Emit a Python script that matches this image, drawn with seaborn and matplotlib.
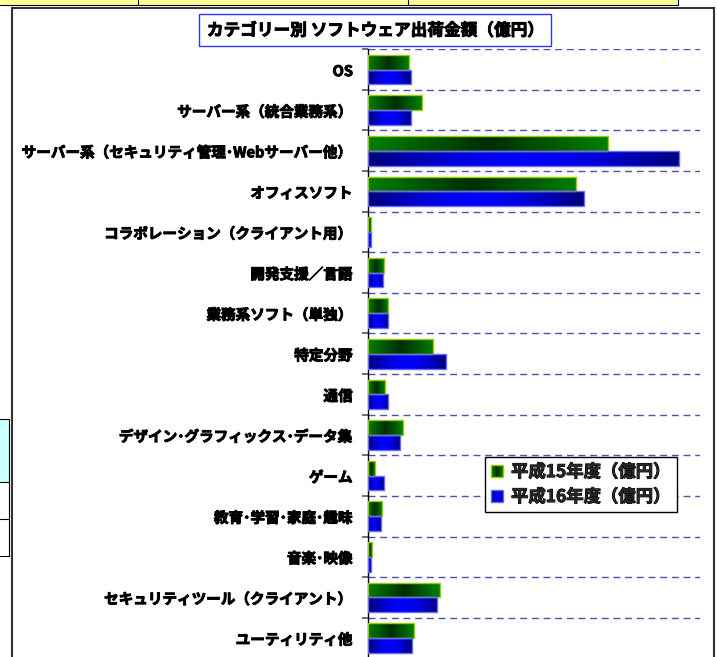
import numpy as np
import pandas as pd
import matplotlib
matplotlib.use("Agg")
import matplotlib.pyplot as plt
import matplotlib.patheffects as pe
import seaborn as sns
from matplotlib.patches import Rectangle, Patch
from matplotlib.legend_handler import HandlerBase
from matplotlib.ticker import FixedLocator

# ---------------- data ----------------
categories = [
    "OS",
    "サーバー系（統合業務系）",
    "サーバー系（セキュリティ管理･Webサーバー他）",
    "オフィスソフト",
    "コラボレーション（クライアント用）",
    "開発支援／言語",
    "業務系ソフト（単独）",
    "特定分野",
    "通信",
    "デザイン･グラフィックス･データ集",
    "ゲーム",
    "教育･学習･家庭･趣味",
    "音楽･映像",
    "セキュリティツール（クライアント）",
    "ユーティリティ他",
]
h15 = [410, 540, 2400, 2084, 27, 160, 204, 654, 170, 347, 70, 137, 40, 717, 457]
h16 = [425, 434, 3107, 2157, 30, 154, 204, 780, 204, 324, 157, 127, 30, 694, 437]
series_names = ["平成15年度（億円）", "平成16年度（億円）"]
title_text = "カテゴリー別 ソフトウェア出荷金額（億円）"

sns.set_theme(style="white")
plt.rcParams["font.family"] = ["Noto Sans CJK JP", "DejaVu Sans"]

W, H = 717, 657
fig = plt.figure(figsize=(W / 100, H / 100), dpi=100)
fig.patch.set_facecolor("white")

heavy = [pe.withStroke(linewidth=0.7, foreground="black")]


def px_rect(x, y, w, h, **kw):
    r = Rectangle((x / W, 1 - (y + h) / H), w / W, h / H,
                  transform=fig.transFigure, **kw)
    fig.add_artist(r)
    return r


def px_line(x0, y0, x1, y1, **kw):
    ln = plt.Line2D([x0 / W, x1 / W], [1 - y0 / H, 1 - y1 / H],
                    transform=fig.transFigure, **kw)
    fig.add_artist(ln)
    return ln


# ---- spreadsheet fragments around the chart ----
px_rect(0, 0, 678, 4.5, facecolor="#ffff99", edgecolor="none", zorder=0)
px_line(0, 4.5, 678, 4.5, color="black", lw=0.8, zorder=1)
for xv in (137.5, 408.5, 678):
    px_line(xv, 0, xv, 4.5, color="black", lw=0.8, zorder=1)
px_rect(0, 419, 8.5, 63, facecolor="#ccffff", edgecolor="none", zorder=0)
px_line(8.5, 419, 8.5, 556, color="black", lw=0.8, zorder=1)
for yv in (419, 482, 519, 556):
    px_line(0, yv, 8.5, yv, color="black", lw=0.8, zorder=1)

# chart area border
px_rect(12, 8, 701.5, 700, facecolor="white", edgecolor="#333333", lw=1.5, zorder=0.5)

# ---------------- axes ----------------
ax_left, ax_right = 368, 700
ax_top, ax_bot = 49.3, 658.3
ax = fig.add_axes([ax_left / W, 1 - ax_bot / H, (ax_right - ax_left) / W,
                   (ax_bot - ax_top) / H])
ax.set_facecolor("none")
ax.set_zorder(2)

df = pd.DataFrame({
    "category": categories * 2,
    "value": h15 + h16,
    "year": [series_names[0]] * len(categories) + [series_names[1]] * len(categories),
})

sns.barplot(data=df, y="category", x="value", hue="year", orient="h",
            order=categories, hue_order=series_names, width=0.732,
            palette=["#006000", "#0000cc"], saturation=1, legend=False, ax=ax)

grad_specs = [
    dict(edge=np.array([0, 128, 0]) / 255, center=np.array([0, 45, 0]) / 255,
         ec="#9acd00", power=1.0),
    dict(edge=np.array([0, 0, 120]) / 255, center=np.array([0, 0, 255]) / 255,
         ec="#6a6aff", power=1.6),
]


def grad_colors(spec, n):
    u = (np.arange(n) + 0.5) / n
    t = np.abs(2 * u - 1) ** spec["power"]
    return spec["center"][None, :] + (spec["edge"] - spec["center"])[None, :] * t[:, None]


for i, cont in enumerate(ax.containers):
    spec = grad_specs[i]
    for p in cont.patches:
        x0, y0 = p.get_x(), p.get_y()
        w, h = p.get_width(), p.get_height()
        if w <= 0:
            continue
        img = grad_colors(spec, 64)[None, :, :]
        im = ax.imshow(img, extent=[x0, x0 + w, y0 + h, y0], aspect="auto",
                       interpolation="bilinear", zorder=2)
        im.set_clip_path(p)
        p.set_facecolor("none")
        p.set_edgecolor(spec["ec"])
        p.set_linewidth(1.0)
        p.set_zorder(3)

ax.set_xlim(0, 3320)
ax.set_ylim(len(categories) - 0.5, -0.5)
ax.set_xlabel("")
ax.set_ylabel("")
ax.set_xticks([])

for s in ("top", "right", "bottom"):
    ax.spines[s].set_visible(False)
ax.spines["left"].set_color("black")
ax.spines["left"].set_linewidth(1.0)

ax.set_yticks(range(len(categories)))
ax.set_yticklabels(categories, fontsize=10.5, fontweight="bold", color="black")
for t in ax.get_yticklabels():
    t.set_path_effects(heavy)
ax.yaxis.set_minor_locator(FixedLocator(np.arange(-0.5, len(categories), 1.0)))
ax.tick_params(axis="y", which="major", length=0, pad=11)
ax.tick_params(axis="y", which="minor", length=4, width=1.2, color="#555555", left=True)
ax.grid(which="minor", axis="y", color="#5050b0", linestyle=(0, (5, 3.4)), lw=1.0)
ax.grid(which="major", axis="y", visible=False)
ax.set_axisbelow(True)


# ---------------- legend ----------------
class GradHandler(HandlerBase):
    def __init__(self, spec):
        super().__init__()
        self.spec = spec

    def create_artists(self, legend, orig_handle, xdescent, ydescent, width,
                       height, fontsize, trans):
        s = height * 1.0
        x0 = -xdescent
        y0 = -ydescent + (height - s) / 2
        n = 10
        cols = grad_colors(self.spec, n)
        arts = []
        for k in range(n):
            arts.append(Rectangle((x0 + k * s / n, y0), s / n + 0.05, s,
                                  facecolor=cols[k], edgecolor="none",
                                  transform=trans))
        arts.append(Rectangle((x0, y0), s, s, facecolor="none",
                              edgecolor=self.spec["ec"], lw=1.0, transform=trans))
        return arts


h_a = Patch(label=series_names[0])
h_b = Patch(label=series_names[1])
leg = ax.legend([h_a, h_b], series_names,
                handler_map={h_a: GradHandler(grad_specs[0]),
                             h_b: GradHandler(grad_specs[1])},
                loc="upper left", bbox_to_anchor=(485 / W, 1 - 457 / H),
                bbox_transform=fig.transFigure, borderaxespad=0,
                prop={"size": 12.5, "weight": "bold"}, frameon=True,
                fancybox=False, framealpha=1, edgecolor="black",
                handlelength=0.7, handletextpad=0.45, borderpad=0.35,
                labelspacing=0.4)
leg.get_frame().set_linewidth(1.0)
leg.set_zorder(10)
for t in leg.get_texts():
    t.set_path_effects(heavy)

# ---------------- title ----------------
px_rect(199, 14, 352, 32, facecolor="white", edgecolor="#3333ff", lw=1.0, zorder=5)
fig.text(375 / W, 1 - 30.5 / H, title_text, ha="center", va="center",
         fontsize=12, fontweight="bold", color="black", zorder=6,
         path_effects=heavy)

fig.savefig("out.png", dpi=100)
